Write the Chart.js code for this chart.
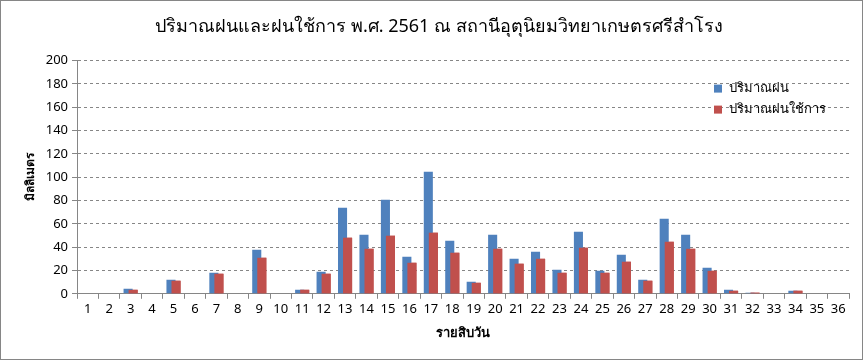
<!DOCTYPE html>
<html>
<head>
<meta charset="utf-8">
<script src="https://cdn.jsdelivr.net/npm/chart.js@4"></script>
<style>
  body { margin: 0; background: #fff; }
  #wrap { width: 864px; height: 361px; }
</style>
</head>
<body>
<div id="wrap"><canvas id="myChart"></canvas></div>
<script>
// รายสิบวัน 1..36
const periods = ['1','2','3','4','5','6','7','8','9','10','11','12','13','14','15','16','17','18',
  '19','20','21','22','23','24','25','26','27','28','29','30','31','32','33','34','35','36']
// ปริมาณฝน (มม.)
const rain = [0,0,4.3,0,12.0,0,18.0,0,37.8,0,3.4,18.9,73.8,50.6,80.7,31.8,104.7,45.5,
  10.3,50.6,30.0,36.0,20.6,53.2,19.7,33.5,12.0,64.4,50.6,22.3,3.4,1.0,0,2.6,0,0]
// ปริมาณฝนใช้การ (มม.)
const effectiveRain = [0,0,3.4,0,11.2,0,17.2,0,30.9,0,3.4,17.2,48.1,38.6,49.8,26.6,52.4,35.2,
  9.4,38.6,25.8,30.0,18.0,39.5,18.0,27.5,11.2,44.6,38.6,19.7,2.6,1.0,0,2.6,0,0]
const yMin = 0
const yMax = 200
const yStep = 20

const seriesNames = ['ปริมาณฝน', 'ปริมาณฝนใช้การ']
const seriesColors = ['#4F81BD', '#C0504D']
const chartTitle = 'ปริมาณฝนและฝนใช้การ พ.ศ. 2561 ณ สถานีอุตุนิยมวิทยาเกษตรศรีสำโรง'

const FONT = 'Tahoma, "Noto Sans", "DejaVu Sans", sans-serif'
const GRAY = '#868686'

// the red bars overlap the blue ones in the original, so paint them again on top
const redOnTop = {
  id: 'redOnTop',
  afterDatasetsDraw (chart) {
    const ctx = chart.ctx
    ctx.save()
    chart.getDatasetMeta(1).data.forEach(function (bar) { bar.draw(ctx) })
    ctx.restore()
  }
}

// legend drawn inside the plot area, top right (like the Excel original)
const innerLegend = {
  id: 'innerLegend',
  afterDraw (chart) {
    const ctx = chart.ctx
    const area = chart.chartArea
    ctx.save()
    ctx.font = '13px ' + FONT
    ctx.textBaseline = 'middle'
    chart.data.datasets.forEach(function (ds, i) {
      const y = area.top + 28 + i * 21
      ctx.fillStyle = ds.backgroundColor
      ctx.fillRect(area.right - 135, y - 4, 8, 8)
      ctx.fillStyle = '#000'
      ctx.fillText(ds.label, area.right - 120, y)
    })
    ctx.restore()
  }
}

const frame = {
  id: 'frame',
  afterDraw (chart) {
    const ctx = chart.ctx
    ctx.save()
    ctx.strokeStyle = GRAY
    ctx.lineWidth = 1
    ctx.strokeRect(0.5, 0.5, chart.width - 2, chart.height - 2)
    ctx.restore()
  }
}

const ctx = document.getElementById('myChart')
const myChart = new Chart(ctx, {
  type: 'bar',
  data: {
    labels: periods,
    datasets: [{
      label: seriesNames[0],
      data: rain,
      backgroundColor: seriesColors[0]
    }, {
      label: seriesNames[1],
      data: effectiveRain,
      backgroundColor: seriesColors[1]
    }]
  },
  options: {
    responsive: true,
    maintainAspectRatio: false,
    animation: false,
    datasets: {
      bar: {
        categoryPercentage: 0.47,
        barPercentage: 1.8
      }
    },
    layout: {
      padding: { left: 15, right: 1, top: 0, bottom: 20 }
    },
    plugins: {
      legend: { display: false },
      tooltip: { enabled: false },
      title: {
        display: true,
        text: chartTitle,
        color: '#000',
        font: { family: FONT, size: 18, weight: 'normal' },
        padding: { top: 16, bottom: 23 }
      }
    },
    scales: {
      x: {
        grid: {
          offset: true,
          drawOnChartArea: false,
          drawTicks: true,
          tickLength: 5,
          tickColor: GRAY
        },
        border: { color: GRAY },
        ticks: {
          color: '#000',
          font: { family: FONT, size: 13 },
          maxRotation: 0,
          autoSkip: false,
          padding: 3
        },
        title: {
          display: true,
          text: 'รายสิบวัน',
          color: '#000',
          font: { family: FONT, size: 13, weight: 'bold' },
          padding: { top: 5, bottom: 0 }
        },
        afterFit: function (scale) {
          scale.paddingRight = 15
        }
      },
      y: {
        min: yMin,
        max: yMax,
        ticks: {
          stepSize: yStep,
          color: '#000',
          font: { family: FONT, size: 13 },
          padding: 4
        },
        grid: {
          color: GRAY,
          tickColor: GRAY,
          tickLength: 5,
          tickBorderDash: []
        },
        border: { color: GRAY, dash: [3, 3] },
        title: {
          display: true,
          text: 'มิลลิเมตร',
          color: '#000',
          font: { family: FONT, size: 12, weight: 'bold' },
          padding: { top: 8, bottom: 0 }
        },
        afterFit: function (scale) {
          scale.width = 62
        }
      }
    }
  },
  plugins: [redOnTop, innerLegend, frame]
})
</script>
</body>
</html>
